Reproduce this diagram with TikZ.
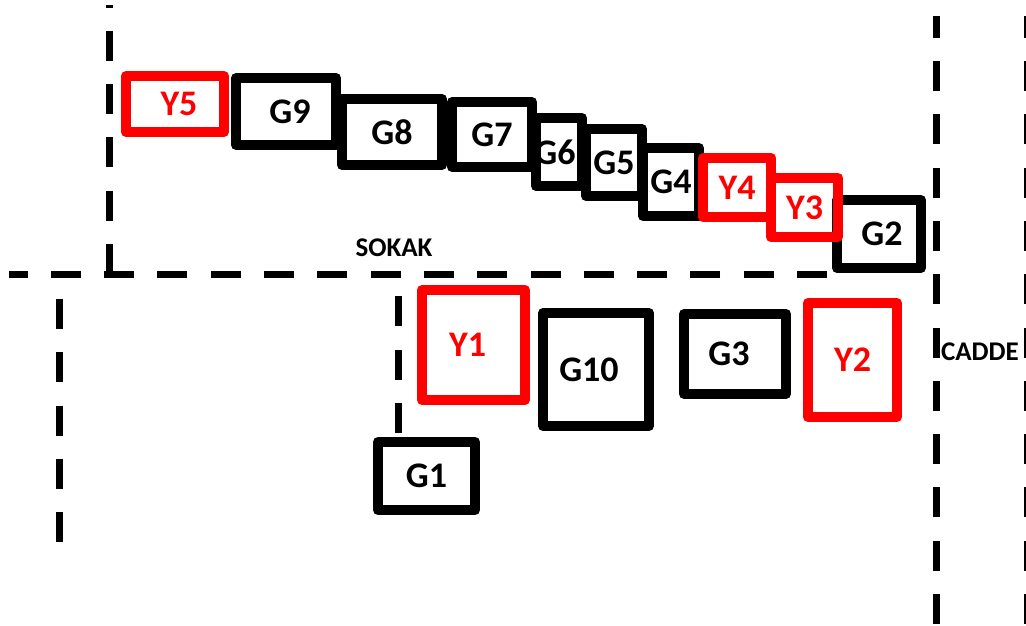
\documentclass[tikz,border=0pt]{standalone}
\usepackage{fontspec}
\setmainfont{Carlito}

\begin{document}
\begin{tikzpicture}[x=1pt,y=-1pt,line join=round]
\tikzstyle{kutu}=[draw=black,line width=10pt,inner sep=0pt,text=black,font=\fontsize{36pt}{42}\selectfont\bfseries]
\tikzstyle{yedek}=[kutu,draw=red,text=red]
\tikzstyle{yol}=[line width=7pt,dash pattern=on 30pt off 23.3pt]
\tikzset{yazi/.style={font=\fontsize{27pt}{32}\selectfont\bfseries}}

\useasboundingbox (0,0) rectangle (1026,625);
\clip (0,0) rectangle (1026,625);

        % yollar
        \coordinate (kose) at (109.5,274);
        \coordinate (ust)  at (109.5,5);
        \coordinate (sag)  at (827,274);
        \coordinate (sol)  at (9,274);
        \draw[yol] (kose) -- (ust);
        \draw[yol] (sag) -- (sol);
        \draw[yol] (59,299) -- (59,543);
        \draw[yol] (398.5,433) -- (398.5,296);
        \draw[yol] (936.5,624) -- (936.5,16);
        \draw[yol] (1027.5,624) -- (1027.5,16);

        % ust sira
        \node[kutu,minimum width=100pt,minimum height=67pt]   (G9)  at (286,111.5)  {\hspace*{8pt}G9};
        \node[kutu,minimum width=100pt,minimum height=66pt]   (G8)  at (392,132)    {G8};
        \node[kutu,minimum width=80pt,minimum height=65pt]    (G7)  at (492,134.5)  {G7};
        \node[kutu,minimum width=46pt,minimum height=68pt]    (G6)  at (559,152)    {\hspace*{-8pt}G6};
        \node[kutu,minimum width=56pt,minimum height=67pt]    (G5)  at (614,162.5)  {G5};
        \node[kutu,minimum width=56pt,minimum height=68pt]    (G4)  at (671,182)    {G4};
        \node[kutu,minimum width=84pt,minimum height=68pt]    (G2)  at (879,234)    {\hspace*{6pt}G2};
        \node[yedek,minimum width=98pt,minimum height=56pt]   (Y5)  at (175,104)    {\hspace*{8pt}Y5};
        \node[yedek,minimum width=68pt,minimum height=59pt]   (Y4)  at (737,187.5)  {Y4};
        \node[yedek,minimum width=67pt,minimum height=59pt]   (Y3)  at (804.5,207.5) {Y3};

        % alt sira
        \node[yedek,minimum width=103pt,minimum height=110pt] (Y1)  at (473.5,345)  {\hspace*{-12pt}Y1};
        \node[kutu,minimum width=106pt,minimum height=113pt]  (G10) at (596,369.5)  {\hspace*{-14pt}G10};
        \node[kutu,minimum width=102pt,minimum height=80pt]   (G3)  at (735,354)    {\hspace*{-12pt}G3};
        \node[yedek,minimum width=89pt,minimum height=114pt]  (Y2)  at (852.5,360)  {Y2};
        \node[kutu,minimum width=97pt,minimum height=68pt]    (G1)  at (426.5,476)  {G1};

        \node[yazi] (sokak) at (394,248)   {SOKAK};
        \node[yazi] (cadde) at (980,351.5) {CADDE};

\end{tikzpicture}
\end{document}
